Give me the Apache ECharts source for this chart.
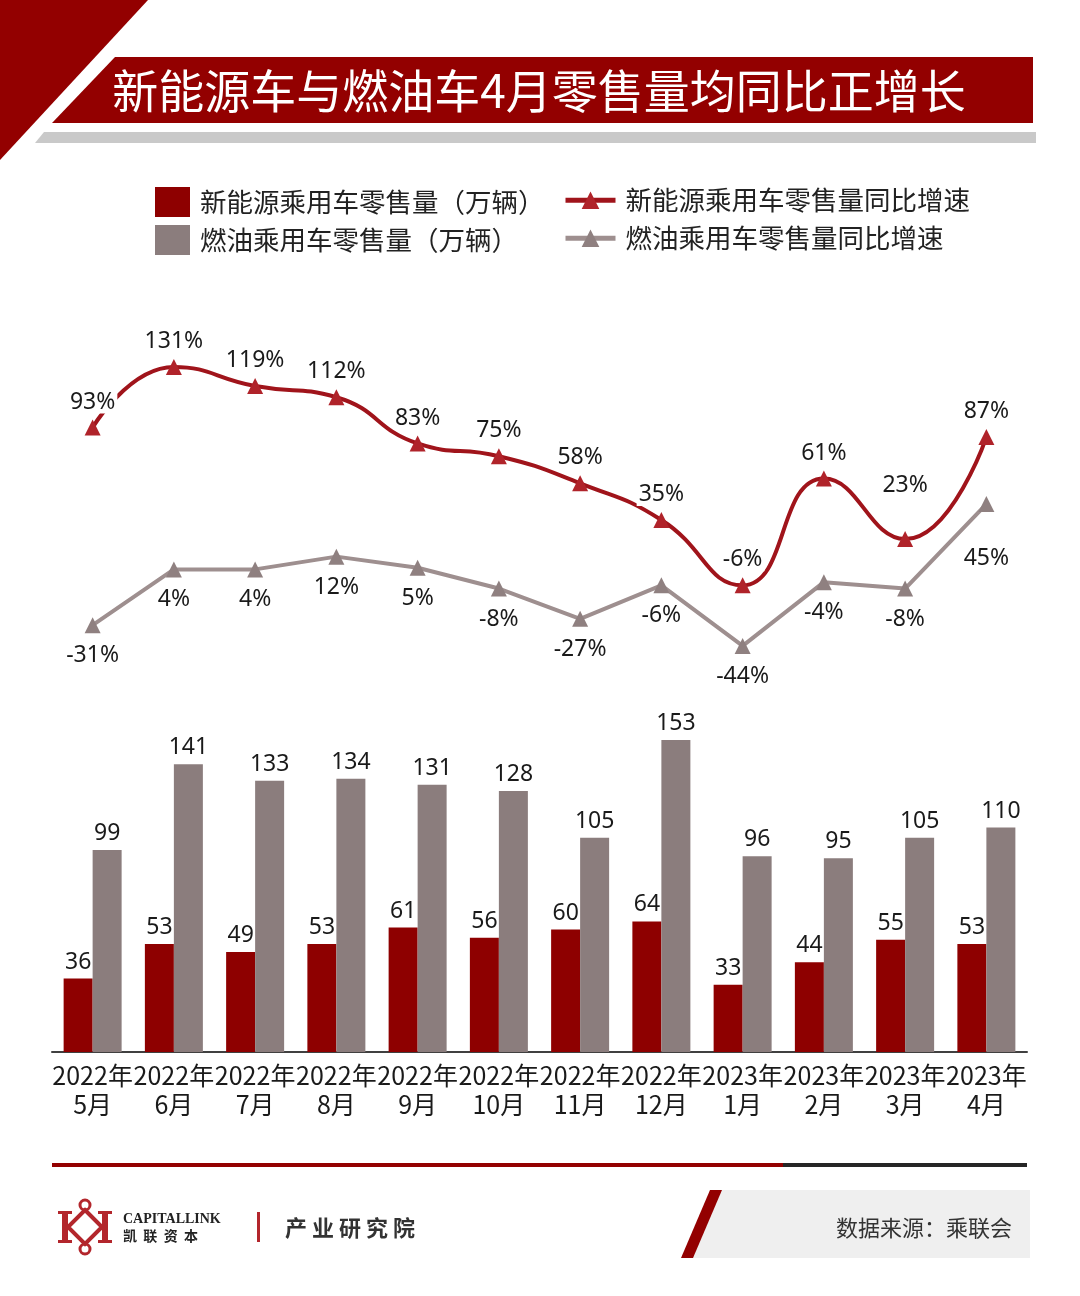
<!DOCTYPE html>
<html>
<head>
<meta charset="utf-8">
<script src="https://cdn.jsdelivr.net/npm/echarts@6/dist/echarts.min.js"></script>
<style>
html, body { margin: 0; padding: 0; background: #fff; }
#chart { width: 1080px; height: 1296px; }
</style>
</head>
<body>
<div id="chart"></div>
<script>
// 月份
var categories = ['2022年\n5月', '2022年\n6月', '2022年\n7月', '2022年\n8月', '2022年\n9月', '2022年\n10月',
    '2022年\n11月', '2022年\n12月', '2023年\n1月', '2023年\n2月', '2023年\n3月', '2023年\n4月'];
// 零售量（万辆）
var nevSales = [36, 53, 49, 53, 61, 56, 60, 64, 33, 44, 55, 53];
var iceSales = [99, 141, 133, 134, 131, 128, 105, 153, 96, 95, 105, 110];
// 同比增速（%）
var nevYoy = [93, 131, 119, 112, 83, 75, 58, 35, -6, 61, 23, 87];
var iceYoy = [-31, 4, 4, 12, 5, -8, -27, -6, -44, -4, -8, 45];

var nevBarName = '新能源乘用车零售量（万辆）';
var iceBarName = '燃油乘用车零售量（万辆）';
var nevLineName = '新能源乘用车零售量同比增速';
var iceLineName = '燃油乘用车零售量同比增速';

var cjk = '"Noto Sans CJK SC", "Noto Sans", sans-serif';
var num = '"Noto Sans", "Noto Sans CJK SC", sans-serif';
var red = '#930000';

var chart = echarts.init(document.getElementById('chart'), null, { renderer: 'canvas' });

var legendText = { fontSize: 26.5, color: '#222', fontFamily: cjk, padding: [0, 0, 0, 5] };

// 个别标签在原图中被手动挪开
var nevYoyData = nevYoy.map(function (v, i) {
    return i === 10 ? { value: v, label: { offset: [0, -28] } } : v;
});
var iceYoyData = iceYoy.map(function (v, i) {
    return i === 11 ? { value: v, label: { offset: [0, 24] } } : v;
});

var option = {
    animation: false,
    backgroundColor: '#fff',
    grid: [
        { left: 52, right: 53, top: 352.6, bottom: 624.6 },   // 折线
        { left: 52, right: 53, top: 725.6, bottom: 244 }      // 柱状
    ],
    legend: [
        { data: [nevBarName], left: 155, top: 187, padding: 0, itemWidth: 35, itemHeight: 30, icon: 'rect', selectedMode: false, textStyle: legendText },
        { data: [iceBarName], left: 155, top: 225, padding: 0, itemWidth: 35, itemHeight: 30, icon: 'rect', selectedMode: false, textStyle: legendText },
        { data: [nevLineName], left: 563, top: 187, padding: 0, itemWidth: 50, itemHeight: 22, selectedMode: false, lineStyle: { width: 5 }, textStyle: legendText },
        { data: [iceLineName], left: 563, top: 225, padding: 0, itemWidth: 50, itemHeight: 22, selectedMode: false, lineStyle: { width: 5 }, textStyle: legendText }
    ],
    xAxis: [
        { type: 'category', gridIndex: 0, data: categories, show: false },
        {
            type: 'category', gridIndex: 1, data: categories,
            axisLine: { lineStyle: { color: '#404040', width: 2 } },
            axisTick: { show: false },
            axisLabel: { interval: 0, fontSize: 25, lineHeight: 29, color: '#1a1a1a', fontFamily: cjk, margin: 9 }
        }
    ],
    yAxis: [
        { type: 'value', gridIndex: 0, min: -60, max: 140, show: false },
        { type: 'value', gridIndex: 1, min: 0, max: 160, show: false }
    ],
    graphic: [
        // 左上角三角
        { type: 'polygon', shape: { points: [[0, 0], [148, 0], [0, 160]] }, style: { fill: red } },
        // 标题横幅
        { type: 'polygon', shape: { points: [[115, 57], [1033, 57], [1033, 123], [52, 123]] }, style: { fill: red } },
        { type: 'polygon', shape: { points: [[44, 132], [1036, 132], [1036, 143], [35, 143]] }, style: { fill: '#c9c9c9' } },
        {
            type: 'text', x: 539, y: 91,
            style: { text: '新能源车与燃油车4月零售量均同比正增长', fill: '#fff', fontSize: 46, fontFamily: cjk, align: 'center', verticalAlign: 'middle' }
        },
        // 底部分隔线
        { type: 'rect', shape: { x: 52, y: 1163, width: 731, height: 4 }, style: { fill: red } },
        { type: 'rect', shape: { x: 783, y: 1163, width: 244, height: 4 }, style: { fill: '#262626' } },
        // logo
        { type: 'polygon', shape: { points: [[85, 1210], [102, 1227], [85, 1244], [68, 1227]] }, style: { fill: 'none', stroke: '#b3262c', lineWidth: 4 } },
        { type: 'circle', shape: { cx: 85, cy: 1205, r: 5 }, style: { fill: 'none', stroke: '#b3262c', lineWidth: 3 } },
        { type: 'circle', shape: { cx: 85, cy: 1249, r: 5 }, style: { fill: 'none', stroke: '#b3262c', lineWidth: 3 } },
        { type: 'rect', shape: { x: 62, y: 1212, width: 6, height: 30 }, style: { fill: '#b3262c' } },
        { type: 'rect', shape: { x: 58, y: 1211, width: 14, height: 3 }, style: { fill: '#b3262c' } },
        { type: 'rect', shape: { x: 58, y: 1240, width: 14, height: 3 }, style: { fill: '#b3262c' } },
        { type: 'rect', shape: { x: 102, y: 1212, width: 6, height: 30 }, style: { fill: '#b3262c' } },
        { type: 'rect', shape: { x: 98, y: 1211, width: 14, height: 3 }, style: { fill: '#b3262c' } },
        { type: 'rect', shape: { x: 98, y: 1240, width: 14, height: 3 }, style: { fill: '#b3262c' } },
        { type: 'text', x: 123, y: 1219, style: { text: 'CAPITALLINK', fill: '#222', fontSize: 14, fontWeight: 'bold', fontFamily: '"Liberation Serif", "DejaVu Serif", serif', verticalAlign: 'middle' } },
        { type: 'text', x: 123, y: 1236, style: { text: '凯  联  资  本', fill: '#222', fontSize: 14, fontWeight: 'bold', fontFamily: cjk, verticalAlign: 'middle' } },
        { type: 'rect', shape: { x: 257, y: 1212, width: 3, height: 30 }, style: { fill: '#b3262c' } },
        { type: 'text', x: 285, y: 1228, style: { text: '产 业 研 究 院', fill: '#333', fontSize: 22, fontWeight: 'bold', fontFamily: cjk, verticalAlign: 'middle' } },
        // 数据来源
        { type: 'polygon', shape: { points: [[717, 1190], [1030, 1190], [1030, 1258], [683, 1258]] }, style: { fill: '#efefef' } },
        { type: 'polygon', shape: { points: [[710, 1190], [722, 1190], [693, 1258], [681, 1258]] }, style: { fill: red } },
        { type: 'text', x: 1012, y: 1228, style: { text: '数据来源：乘联会', fill: '#333', fontSize: 22, fontFamily: cjk, align: 'right', verticalAlign: 'middle' } }
    ],
    series: [
        {
            name: nevBarName, type: 'bar', xAxisIndex: 1, yAxisIndex: 1, data: nevSales,
            barWidth: 29, barGap: '0%', itemStyle: { color: '#8e0000' },
            label: { show: true, position: 'top', distance: 5, fontSize: 23, color: '#1a1a1a', fontFamily: num }
        },
        {
            name: iceBarName, type: 'bar', xAxisIndex: 1, yAxisIndex: 1, data: iceSales,
            barWidth: 29, barGap: '0%', itemStyle: { color: '#8b7d7d' },
            label: { show: true, position: 'top', distance: 5, fontSize: 23, color: '#1a1a1a', fontFamily: num }
        },
        {
            name: iceLineName, type: 'line', xAxisIndex: 0, yAxisIndex: 0, data: iceYoyData,
            symbol: 'triangle', symbolSize: 16,
            lineStyle: { color: '#9e8f8f', width: 4 },
            itemStyle: { color: '#8f8080' },
            label: { show: true, position: 'bottom', distance: 11, fontSize: 23, color: '#1a1a1a', fontFamily: num, formatter: '{c}%' }
        },
        {
            name: nevLineName, type: 'line', xAxisIndex: 0, yAxisIndex: 0, data: nevYoyData,
            smooth: 0.5, symbol: 'triangle', symbolSize: 16,
            lineStyle: { color: '#a0141b', width: 4 },
            itemStyle: { color: '#b0232a' },
            label: { show: true, position: 'top', distance: 6, fontSize: 23, color: '#1a1a1a', fontFamily: num, formatter: '{c}%', backgroundColor: '#fff', padding: [0, 2] }
        }
    ]
};
chart.setOption(option);
</script>
</body>
</html>
